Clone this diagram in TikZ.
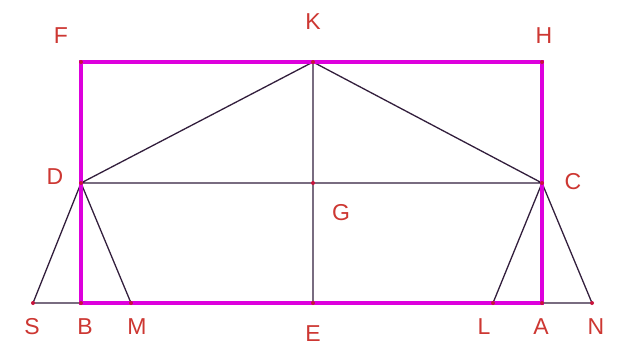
\documentclass[tikz,border=0pt]{standalone}
\usepackage{fontspec}
\setmainfont{Liberation Sans}
\definecolor{mag}{RGB}{221,0,221}
\definecolor{thin}{RGB}{50,30,60}
\definecolor{lab}{RGB}{205,55,50}
\definecolor{pt}{RGB}{200,20,60}
\begin{document}
\begin{tikzpicture}[x=1pt,y=-1pt,
  pnt/.style={circle,fill=pt,inner sep=0pt,minimum size=4pt},
  lbl/.style={text=lab,font=\fontsize{23}{23}\selectfont,inner sep=0pt},
  thinline/.style={draw=thin,line width=1.3pt},
  thickline/.style={draw=mag,line width=4.5pt}]
\useasboundingbox[fill=white] (0,0) rectangle (622,349);
\coordinate (F) at (81,62);
\coordinate (K) at (313,62);
\coordinate (H) at (542,62);
\coordinate (D) at (81,183);
\coordinate (G) at (313,183);
\coordinate (C) at (542,183);
\coordinate (S) at (33,303);
\coordinate (B) at (81,303);
\coordinate (M) at (131,303);
\coordinate (E) at (313,303);
\coordinate (L) at (493,303);
\coordinate (A) at (542,303);
\coordinate (N) at (592,303);
\draw[thinline] (K) -- (D) (K) -- (C) (D) -- (C) (K) -- (E)
  (D) -- (S) (D) -- (M) (C) -- (L) (C) -- (N) (S) -- (B) (A) -- (N);
\draw[thickline] (F) -- (H) -- (A) -- (B) -- cycle;
\foreach \p in {F,K,H,D,G,C,S,B,M,E,L,A,N} \node[pnt] at (\p) {};
\node[lbl] (tF) at (61,36) {F};
\node[lbl] (tK) at (313,22) {K};
\node[lbl] (tH) at (544,36) {H};
\node[lbl] (tD) at (55,177) {D};
\node[lbl] (tC) at (573,182) {C};
\node[lbl] (tG) at (341,213) {G};
\node[lbl] (tS) at (32,327) {S};
\node[lbl] (tB) at (85,327) {B};
\node[lbl] (tM) at (137,327) {M};
\node[lbl] (tE) at (313,334) {E};
\node[lbl] (tL) at (484,327) {L};
\node[lbl] (tA) at (541,327) {A};
\node[lbl] (tN) at (596,327) {N};
\end{tikzpicture}
\end{document}
